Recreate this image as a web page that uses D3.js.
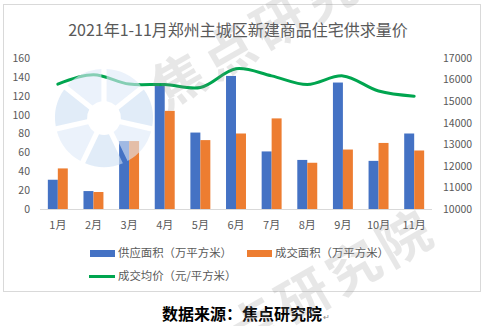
<!DOCTYPE html>
<html>
<head>
<meta charset="utf-8">
<script src="https://cdn.jsdelivr.net/npm/d3@7/dist/d3.min.js"></script>
<style>
  html, body { margin: 0; padding: 0; background: #fff; }
  svg { display: block; }
  text { font-family: "Noto Sans CJK SC", "Noto Sans", sans-serif; }
</style>
</head>
<body>
<svg id="chart" width="485" height="326"></svg>
<script>
const title = "2021年1-11月郑州主城区新建商品住宅供求量价";
const months = ["1月","2月","3月","4月","5月","6月","7月","8月","9月","10月","11月"];
const supply = [31, 19, 72, 133, 81, 141, 61, 52, 134, 51, 80];
const deal = [43, 18, 72, 104, 73, 80, 96, 49, 63, 70, 62];
const price = [15790, 16220, 15790, 15770, 15630, 16500, 16170, 15770, 16170, 15470, 15230];
const leftTicks = [0, 20, 40, 60, 80, 100, 120, 140, 160];
const rightTicks = [10000, 11000, 12000, 13000, 14000, 15000, 16000, 17000];
const seriesNames = ["供应面积（万平方米）", "成交面积（万平方米）", "成交均价（元/平方米）"];
const source = "数据来源：焦点研究院";
const watermark = "焦点研究院";

const svg = d3.select("#chart");
const gray = "#595959";
const cBlue = "#4472C4", cOrange = "#ED7D31", cGreen = "#00A54F";

// chart area border
svg.append("rect").attr("x", 3.5).attr("y", 4.5).attr("width", 477).attr("height", 287)
  .attr("fill", "#fff").attr("stroke", "#d9d9d9").attr("stroke-width", 1);

// title
svg.append("text").attr("x", 238).attr("y", 36).attr("text-anchor", "middle")
  .attr("font-size", 16).attr("fill", gray).text(title);

const x = d3.scaleBand().domain(months).range([40, 432]).paddingInner(0.44).paddingOuter(0.22);
const yL = d3.scaleLinear().domain([0, 160]).range([209, 58]);
const yR = d3.scaleLinear().domain([10000, 17000]).range([209, 58]);
const bw = x.bandwidth() / 2;

// bars
svg.append("g").selectAll("rect").data(months).join("rect")
  .attr("x", d => x(d)).attr("width", bw)
  .attr("y", (d, i) => yL(supply[i])).attr("height", (d, i) => yL(0) - yL(supply[i]))
  .attr("fill", cBlue);
svg.append("g").selectAll("rect").data(months).join("rect")
  .attr("x", d => x(d) + bw).attr("width", bw)
  .attr("y", (d, i) => yL(deal[i])).attr("height", (d, i) => yL(0) - yL(deal[i]))
  .attr("fill", cOrange);

// baseline
svg.append("line").attr("x1", 40).attr("x2", 432).attr("y1", yL(0) + 0.5).attr("y2", yL(0) + 0.5)
  .attr("stroke", "#d9d9d9");

// line
const line = d3.line().x((d, i) => x(months[i]) + x.bandwidth() / 2).y(d => yR(d))
  .curve(d3.curveCatmullRom.alpha(0.5));
svg.append("path").attr("d", line(price)).attr("fill", "none")
  .attr("stroke", cGreen).attr("stroke-width", 3).attr("stroke-linecap", "round");

// axes
const axL = svg.append("g").attr("transform", "translate(40,0)")
  .call(d3.axisLeft(yL).tickValues(leftTicks).tickSize(0).tickPadding(10));
const axR = svg.append("g").attr("transform", "translate(432,0)")
  .call(d3.axisRight(yR).tickValues(rightTicks).tickFormat(d3.format("d")).tickSize(0).tickPadding(11));
const axB = svg.append("g").attr("transform", "translate(0,209)")
  .call(d3.axisBottom(x).tickSize(0).tickPadding(12));
[axL, axR, axB].forEach(a => {
  a.select(".domain").remove();
  a.selectAll("text").attr("font-size", 10.5).attr("fill", gray)
    .attr("font-family", "'Noto Sans CJK SC', sans-serif");
});
axB.selectAll("text").attr("font-size", 11);

// legend
const lg = svg.append("g").attr("font-size", 11.4).attr("fill", gray);
lg.append("rect").attr("x", 90).attr("y", 250).attr("width", 25).attr("height", 7).attr("fill", cBlue);
lg.append("text").attr("x", 118).attr("y", 253.5).attr("dy", "0.35em").attr("fill", gray).text(seriesNames[0]);
lg.append("rect").attr("x", 247).attr("y", 250).attr("width", 25).attr("height", 7).attr("fill", cOrange);
lg.append("text").attr("x", 275).attr("y", 253.5).attr("dy", "0.35em").attr("fill", gray).text(seriesNames[1]);
lg.append("line").attr("x1", 89).attr("x2", 115).attr("y1", 276.5).attr("y2", 276.5)
  .attr("stroke", cGreen).attr("stroke-width", 3);
lg.append("text").attr("x", 118).attr("y", 276.5).attr("dy", "0.35em").attr("fill", gray).text(seriesNames[2]);

// footer
svg.append("text").attr("x", 242).attr("y", 314).attr("dy", "0.35em").attr("text-anchor", "middle")
  .attr("font-size", 16).attr("font-weight", "bold").attr("fill", "#000").text(source);
svg.append("text").attr("x", 323).attr("y", 317).attr("dy", "0.35em")
  .attr("font-size", 8).attr("fill", "#888").text("↵");

// watermark: fan logo
const wm = svg.append("g").attr("pointer-events", "none");
const arc = d3.arc().innerRadius(17).outerRadius(49).padAngle(0.1);
const fan = d3.pie().sort(null).value(1)([1,1,1,1,1,1,1]);
wm.append("g").attr("transform", "translate(104,118)").selectAll("path").data(fan).join("path")
  .attr("d", arc).attr("fill", (d, i) => i % 2 ? "#cddff4" : "#dde9f8").attr("opacity", 0.6);
// watermark: text
[[165, 110], [190, 384]].forEach(([tx, ty]) => {
  wm.append("text").attr("transform", `translate(${tx},${ty}) rotate(-30)`)
    .attr("font-size", 52).attr("font-weight", "bold").attr("fill", "#8c8c8c")
    .attr("opacity", 0.2).attr("letter-spacing", 6).text(watermark);
});
</script>
</body>
</html>
